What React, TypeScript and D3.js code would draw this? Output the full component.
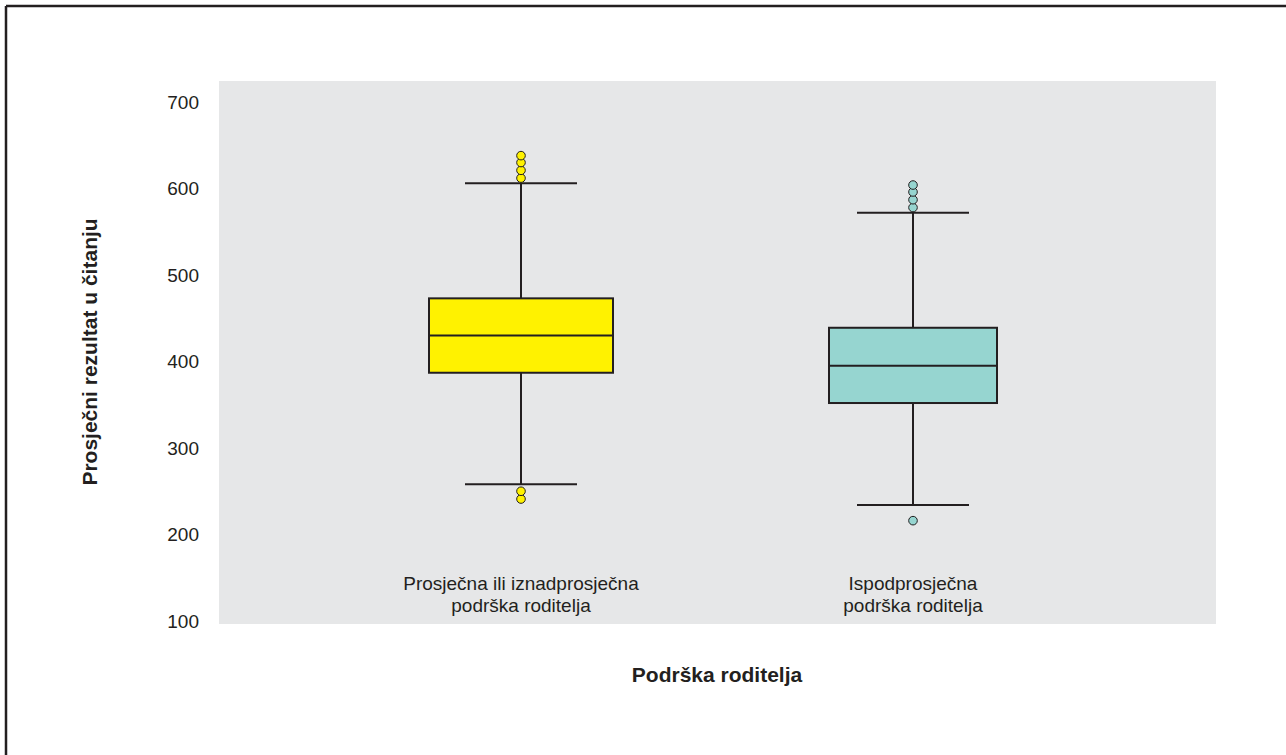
import React from "react";
import * as d3 from "d3";

const categories = ["Prosječna ili iznadprosječna|podrška roditelja", "Ispodprosječna|podrška roditelja"];
const whiskerLow = [258, 234];
const q1 = [387, 352];
const median = [430, 395];
const q3 = [473, 439];
const whiskerHigh = [606, 572];
const outliersHigh = [[612, 621, 630, 638], [578, 587, 596, 604]];
const outliersLow = [[241, 250], [216]];
const fills = ["#FFF200", "#96D5D0"];
const yTicks = [100, 200, 300, 400, 500, 600, 700];

export default function App() {
  const W = 1286, H = 755;
  const panel = { x0: 219, x1: 1216, y0: 81, y1: 624 };
  const y = d3.scaleLinear().domain([100, 700]).range([621, 102]);
  const x = d3.scalePoint<string>().domain(categories).range([521, 913]);
  const boxWs = [184, 168];
  const font = "'Liberation Sans', Arial, Helvetica, sans-serif";
  const stroke = "#231F20";
  return (
    <svg width={W} height={H} style={{ position: "absolute", left: 0, top: 0 }} fontFamily={font}>
      <rect x={0} y={0} width={W} height={H} fill="#fff" />
      <line x1={6} y1={6} x2={W} y2={6} stroke={stroke} strokeWidth={2.5} />
      <line x1={6} y1={6} x2={6} y2={H} stroke={stroke} strokeWidth={2.5} />
      <rect x={panel.x0} y={panel.y0} width={panel.x1 - panel.x0} height={panel.y1 - panel.y0} fill="#E6E7E8" />
      {yTicks.map((t) => (
        <text key={t} x={199} y={y(t)} dy="0.35em" textAnchor="end" fontSize={19} fill="#231F20">{t}</text>
      ))}
      {categories.map((c, i) => {
        const cx = x(c)!;
        const boxW = boxWs[i];
        return (
          <g key={c}>
            <line x1={cx} x2={cx} y1={y(whiskerHigh[i])} y2={y(q3[i])} stroke={stroke} strokeWidth={2} />
            <line x1={cx} x2={cx} y1={y(q1[i])} y2={y(whiskerLow[i])} stroke={stroke} strokeWidth={2} />
            <line x1={cx - 56} x2={cx + 56} y1={y(whiskerHigh[i])} y2={y(whiskerHigh[i])} stroke={stroke} strokeWidth={2} />
            <line x1={cx - 56} x2={cx + 56} y1={y(whiskerLow[i])} y2={y(whiskerLow[i])} stroke={stroke} strokeWidth={2} />
            <rect x={cx - boxW / 2} y={y(q3[i])} width={boxW} height={y(q1[i]) - y(q3[i])} fill={fills[i]} stroke={stroke} strokeWidth={2} />
            <line x1={cx - boxW / 2} x2={cx + boxW / 2} y1={y(median[i])} y2={y(median[i])} stroke={stroke} strokeWidth={2} />
            {[...outliersHigh[i], ...outliersLow[i]].map((v, j) => (
              <circle key={j} cx={cx} cy={y(v)} r={4.3} fill={fills[i]} stroke={stroke} strokeWidth={1} />
            ))}
            {c.split("|").map((line, k) => (
              <text key={k} x={cx} y={583 + k * 22} dy="0.35em" textAnchor="middle" fontSize={19} fill="#231F20">{line}</text>
            ))}
          </g>
        );
      })}
      <text x={717} y={675} dy="0.35em" textAnchor="middle" fontSize={21} fontWeight="bold" fill="#231F20">Podrška roditelja</text>
      <text transform={`translate(90,${352}) rotate(-90)`} dy="0.35em" textAnchor="middle" fontSize={21} fontWeight="bold" fill="#231F20">Prosječni rezultat u čitanju</text>
    </svg>
  );
}
